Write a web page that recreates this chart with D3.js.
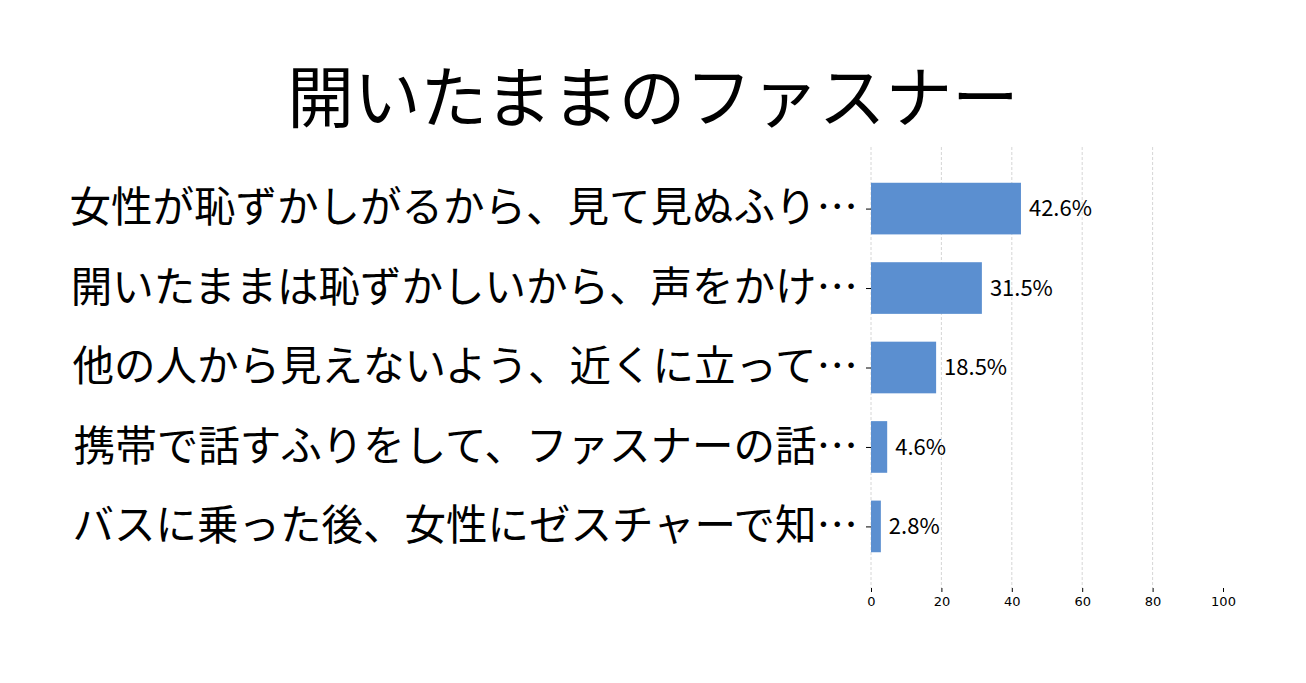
<!DOCTYPE html>
<html>
<head>
<meta charset="utf-8">
<script src="https://cdn.jsdelivr.net/npm/d3@7"></script>
<style>
  body { margin: 0; background: #fff; }
  text { font-family: "Noto Sans CJK JP", "Noto Sans", sans-serif; }
</style>
</head>
<body>
<svg id="chart" width="1306" height="683"></svg>
<script>
var title = "開いたままのファスナー";
var categories = [
    "女性が恥ずかしがるから、見て見ぬふり…",
    "開いたままは恥ずかしいから、声をかけ…",
    "他の人から見えないよう、近くに立って…",
    "携帯で話すふりをして、ファスナーの話…",
    "バスに乗った後、女性にゼスチャーで知…"
];
var values = [42.6, 31.5, 18.5, 4.6, 2.8];
var xTicks = [0, 20, 40, 60, 80, 100];

window.addEventListener( "load", makeChart );
function makeChart() {
    var svg = d3.select( "#chart" );
    var left = 871, right = 1223, top = 147, bottom = 588;

    var scX = d3.scaleLinear().domain( [0, 100] ).range( [left, right] );
    var scY = d3.scaleBand().domain( d3.range( categories.length ) )
        .range( [top, bottom] ).paddingInner( 0.35 ).paddingOuter( 0.45 );

    svg.append( "text" ).text( title )
        .attr( "x", 653 ).attr( "y", 122 )
        .attr( "text-anchor", "middle" ).attr( "font-size", 66.7 );

    // dashed grid
    svg.append( "g" ).selectAll( "line" ).data( xTicks.slice( 0, -1 ) ).enter()
        .append( "line" )
        .attr( "x1", scX ).attr( "x2", scX )
        .attr( "y1", top ).attr( "y2", bottom )
        .attr( "stroke", "#cccccc" ).attr( "stroke-width", 0.8 )
        .attr( "stroke-dasharray", "3,2" );

    // bars
    svg.append( "g" ).selectAll( "rect" ).data( values ).enter()
        .append( "rect" )
        .attr( "x", scX( 0 ) ).attr( "y", (d, i) => scY( i ) )
        .attr( "width", d => scX( d ) - scX( 0 ) )
        .attr( "height", scY.bandwidth() )
        .attr( "fill", "#5b8fd0" );

    // value labels
    svg.append( "g" ).selectAll( "text" ).data( values ).enter()
        .append( "text" ).text( d => d.toFixed( 1 ) + "%" )
        .attr( "x", d => scX( d ) + 8 )
        .attr( "y", (d, i) => scY( i ) + scY.bandwidth() / 2 )
        .attr( "dy", "0.35em" ).attr( "font-size", 22 );

    // x axis
    var ax = svg.append( "g" ).attr( "transform", "translate(0," + bottom + ")" )
        .call( d3.axisBottom( scX ).tickValues( xTicks ).tickSize( 4 ).tickPadding( 5 ) );
    ax.select( ".domain" ).remove();
    ax.selectAll( "text" ).attr( "font-size", 13 )
        .style( "font-family", "'DejaVu Sans', sans-serif" );
    ax.selectAll( "line" ).attr( "stroke", "#000" );

    // y axis
    var scYc = d3.scalePoint().domain( d3.range( categories.length ) )
        .range( [scY( 0 ) + scY.bandwidth() / 2,
                 scY( categories.length - 1 ) + scY.bandwidth() / 2] );
    var ay = svg.append( "g" ).attr( "transform", "translate(" + left + ",0)" )
        .call( d3.axisLeft( scYc ).tickSize( 5 ).tickPadding( 8 )
               .tickFormat( i => categories[i] ) );
    ay.select( ".domain" ).remove();
    ay.selectAll( "text" ).attr( "font-size", 41.5 )
        .style( "font-family", "'Noto Sans CJK JP', sans-serif" );
    ay.selectAll( "line" ).attr( "stroke", "#000" );
}
</script>
</body>
</html>
